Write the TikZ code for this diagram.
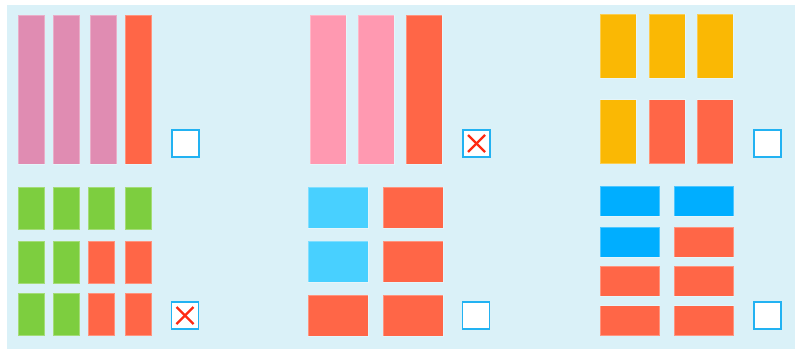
\documentclass[tikz,border=0pt]{standalone}
\usepackage{tikz}
\definecolor{bgblue}{HTML}{DAF1F8}
\definecolor{mauve}{HTML}{E08CB2}
\definecolor{coral}{HTML}{FF6647}
\definecolor{blush}{HTML}{FF99B1}
\definecolor{grass}{HTML}{7DCE3F}
\definecolor{sky}{HTML}{48D0FF}
\definecolor{amber}{HTML}{FAB804}
\definecolor{azure}{HTML}{00AEFF}
\definecolor{boxblue}{HTML}{22B2F2}
\definecolor{crossred}{HTML}{FF2A12}

\begin{document}
\begin{tikzpicture}[x=1pt, y=-1pt,
  tile/.style={inner sep=0pt, outer sep=0pt, anchor=north west,
    draw=white, draw opacity=0.3, line width=0.5pt},
  chkbox/.style={draw=boxblue, line width=1.8pt, fill=white,
    inner sep=0pt, outer sep=0pt, minimum size=27pt},
  cross/.style={draw=crossred, line width=2.2pt}]
\useasboundingbox (0,0) rectangle (795,349);
\fill[bgblue] (7,5) rectangle (795,349);

% top left: four tall bars
\foreach \c/\x in {mauve/18, mauve/53, mauve/90, coral/125}
  \node[tile, fill=\c, minimum width=26.5pt, minimum height=149pt] (tl\x) at (\x,15) {};
\node[chkbox] (chk1) at (185.5,143.5) {};

% bottom left: three rows of four
\foreach \y/\ca/\cb/\cc/\cd in {187/grass/grass/grass/grass,
    241/grass/grass/coral/coral, 293/grass/grass/coral/coral} {
  \node[tile, fill=\ca, minimum width=26.5pt, minimum height=42.5pt] (bl\y a) at (18,\y) {};
  \node[tile, fill=\cb, minimum width=26.5pt, minimum height=42.5pt] (bl\y b) at (53,\y) {};
  \node[tile, fill=\cc, minimum width=26.5pt, minimum height=42.5pt] (bl\y c) at (88,\y) {};
  \node[tile, fill=\cd, minimum width=26.5pt, minimum height=42.5pt] (bl\y d) at (125,\y) {};
}
\node[chkbox] (chk2) at (185,315.5) {};
\draw[cross] ([shift={(5,5)}]chk2.north west) -- ([shift={(-5,-5)}]chk2.south east);
\draw[cross] ([shift={(5,-5)}]chk2.south west) -- ([shift={(-5,5)}]chk2.north east);

% top middle: three tall bars
\foreach \c/\x in {blush/310, blush/358, coral/406}
  \node[tile, fill=\c, minimum width=36pt, minimum height=149pt] (tm\x) at (\x,15) {};
\node[chkbox] (chk3) at (476.5,143.5) {};
\draw[cross] ([shift={(5,5)}]chk3.north west) -- ([shift={(-5,-5)}]chk3.south east);
\draw[cross] ([shift={(5,-5)}]chk3.south west) -- ([shift={(-5,5)}]chk3.north east);

% bottom middle: three rows of two
\foreach \y/\ca/\cb in {187/sky/coral, 241/sky/coral, 295/coral/coral} {
  \node[tile, fill=\ca, minimum width=60pt, minimum height=41pt] (bm\y a) at (308,\y) {};
  \node[tile, fill=\cb, minimum width=60pt, minimum height=41pt] (bm\y b) at (383,\y) {};
}
\node[chkbox] (chk4) at (476,315.5) {};

% top right: two rows of three
\foreach \y/\ca/\cb/\cc in {14/amber/amber/amber, 99.5/amber/coral/coral} {
  \node[tile, fill=\ca, minimum width=36pt, minimum height=64pt] (tr\y a) at (600,\y) {};
  \node[tile, fill=\cb, minimum width=36pt, minimum height=64pt] (tr\y b) at (649,\y) {};
  \node[tile, fill=\cc, minimum width=36pt, minimum height=64pt] (tr\y c) at (697,\y) {};
}
\node[chkbox] (chk5) at (767.5,143.5) {};

% bottom right: four rows of two
\foreach \y/\ca/\cb in {186/azure/azure, 227/azure/coral, 266/coral/coral, 305.5/coral/coral} {
  \node[tile, fill=\ca, minimum width=59.5pt, minimum height=30pt] (br\y a) at (600,\y) {};
  \node[tile, fill=\cb, minimum width=59.5pt, minimum height=30pt] (br\y b) at (674,\y) {};
}
\node[chkbox] (chk6) at (767.5,315.5) {};
\end{tikzpicture}
\end{document}
